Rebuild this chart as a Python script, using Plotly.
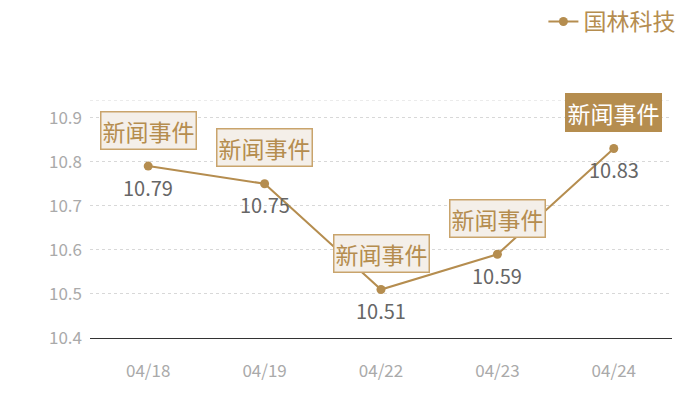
import plotly.graph_objects as go

dates = ["04/18", "04/19", "04/22", "04/23", "04/24"]
prices = [10.79, 10.75, 10.51, 10.59, 10.83]
labels = ["10.79", "10.75", "10.51", "10.59", "10.83"]
events = ["新闻事件", "新闻事件", "新闻事件", "新闻事件", "新闻事件"]
highlight = [False, False, False, False, True]
series_name = "国林科技"
y_ticks = [10.4, 10.5, 10.6, 10.7, 10.8, 10.9]
y_min, y_max = 10.4, 10.94

gold = "#b58d4f"
font = "Noto Sans CJK SC, Microsoft YaHei, sans-serif"

fig = go.Figure()
fig.add_trace(go.Scatter(
    x=dates, y=prices, mode="lines+markers", name=series_name,
    line=dict(color=gold, width=2), marker=dict(color=gold, size=9),
    cliponaxis=False,
))

for d, p, lab, e, h in zip(dates, prices, labels, events, highlight):
    fig.add_annotation(
        x=d, y=p, text=lab, showarrow=False, yshift=-21,
        font=dict(size=20, color="#666666", family=font),
    )
    fig.add_annotation(
        x=d, y=p, text=e, showarrow=False, yshift=36,
        font=dict(size=23, color="#ffffff" if h else gold, family=font),
        bgcolor=gold if h else "#f4efe9",
        bordercolor=gold if h else "#c9a46c", borderwidth=1.5, borderpad=1,
    )

fig.add_shape(type="line", xref="paper", yref="y", x0=0, x1=1, y0=y_max, y1=y_max,
              line=dict(color="#d8d8d8", width=1, dash="dot"), layer="below")

fig.update_layout(
    width=700, height=400,
    margin=dict(l=90, r=28, t=100, b=62, autoexpand=False),
    plot_bgcolor="white", paper_bgcolor="white",
    font=dict(family=font),
    showlegend=True,
    legend=dict(xref="container", yref="container", x=0.972, xanchor="right",
                y=1.0, yanchor="top", orientation="h",
                font=dict(size=23, color=gold, family=font), itemwidth=30),
    xaxis=dict(type="category", range=[-0.5, 4.5], showgrid=False, showline=True,
               linecolor="#333333", linewidth=1, ticks="",
               tickfont=dict(size=17, color="#aaaaaa"), ticklabelstandoff=18),
    yaxis=dict(range=[y_min, y_max], tickvals=y_ticks, ticktext=[f"{v:.1f}" for v in y_ticks],
               showgrid=True, gridcolor="#d8d8d8", griddash="dot", gridwidth=1,
               zeroline=False, showline=False, tickfont=dict(size=17, color="#aaaaaa"),
               ticklabelstandoff=7),
)

fig.write_html("out.html", config={"displayModeBar": False},
               post_script="document.body.style.margin='0';")
